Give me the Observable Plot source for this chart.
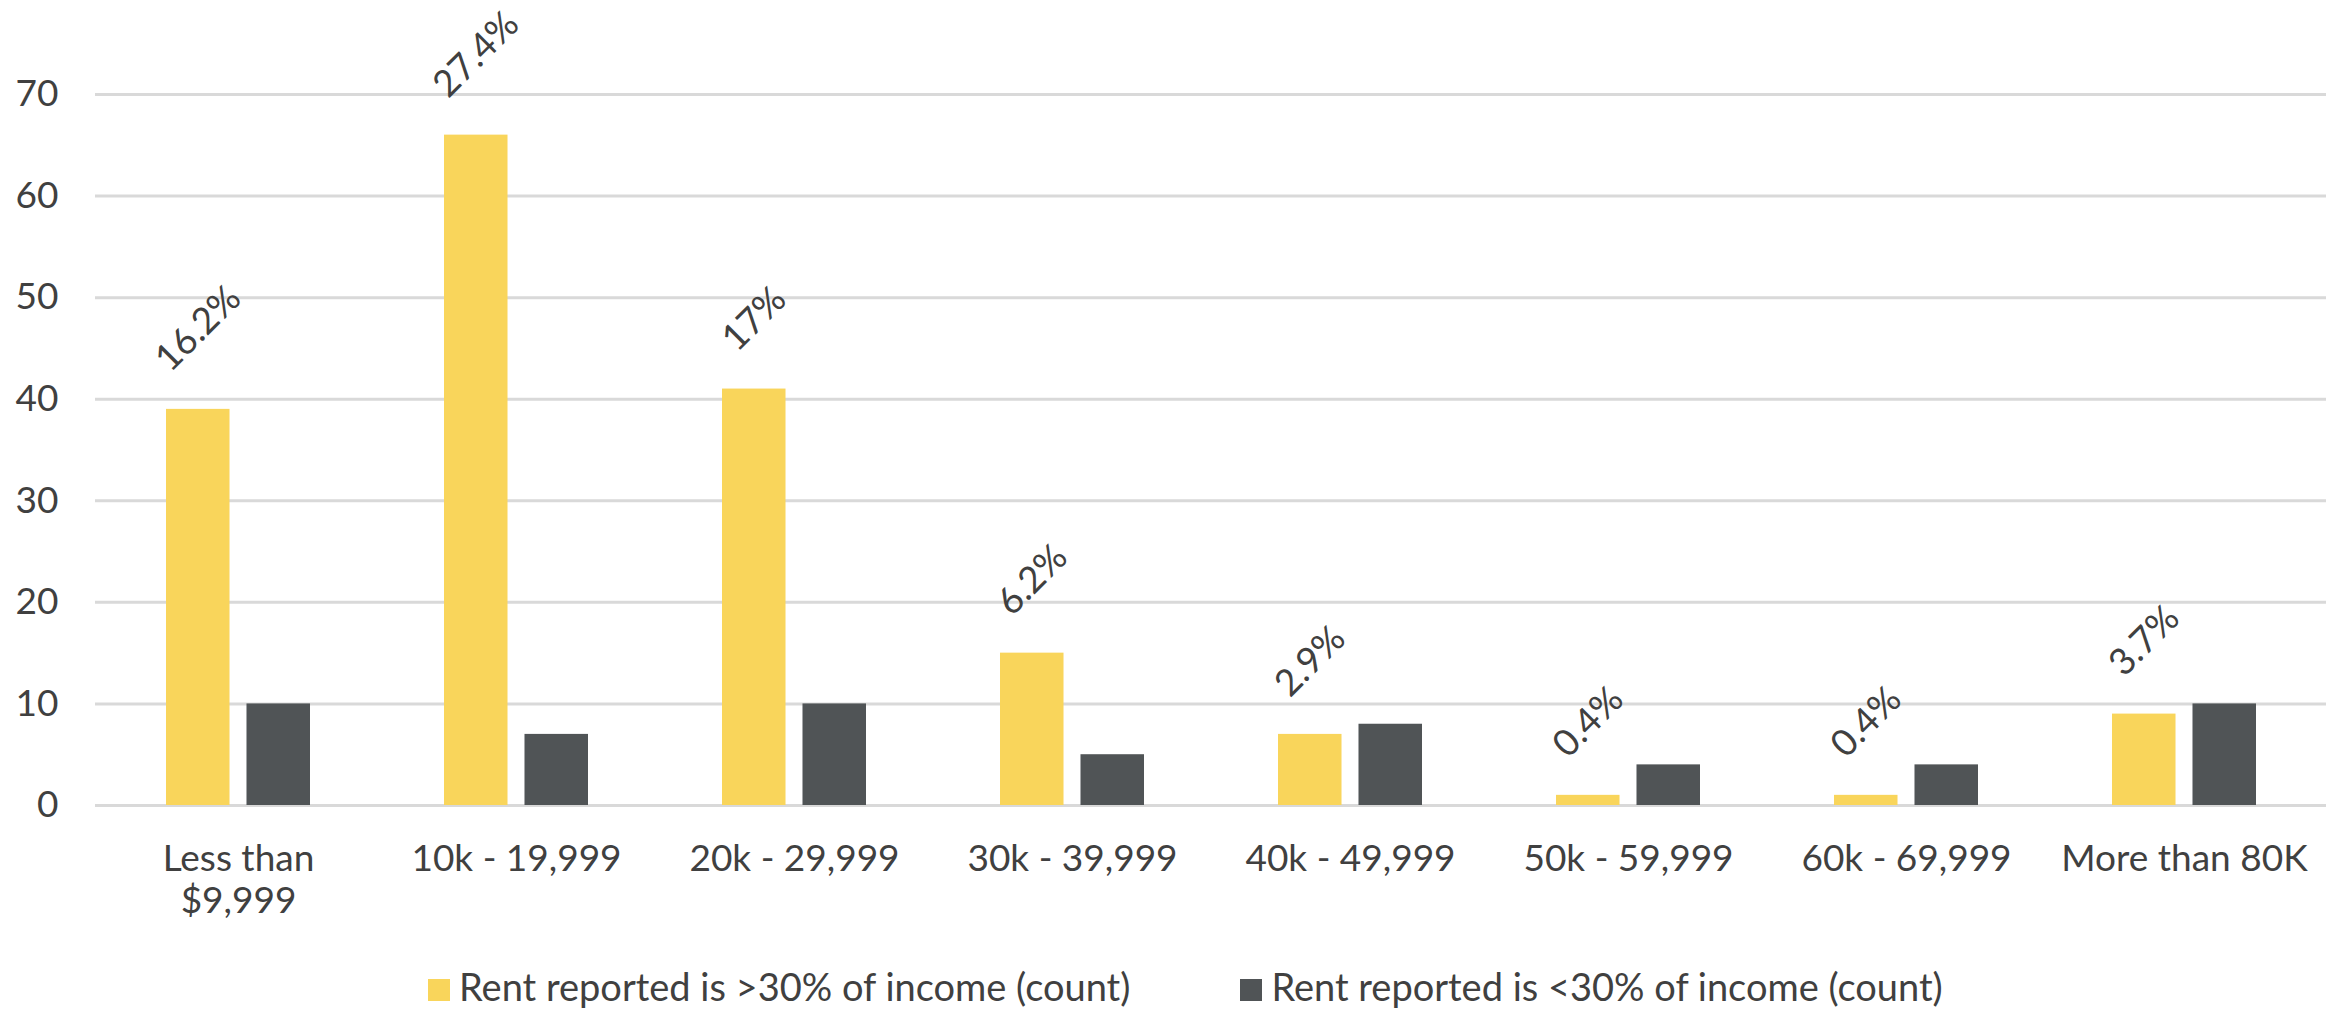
<!DOCTYPE html>
<html>
<head>
<meta charset="utf-8">
<script src="https://cdn.jsdelivr.net/npm/d3@7"></script>
<script src="https://cdn.jsdelivr.net/npm/@observablehq/plot@0.6"></script>
<style>
  html, body { margin: 0; padding: 0; background: #ffffff; }
  body { width: 2346px; height: 1011px; overflow: hidden; font-family: Lato, "Noto Sans", sans-serif; }
  #legend { height: 61px; box-sizing: border-box; padding-top: 17px; padding-left: 428px; font-size: 38px; line-height: 1; color: #404040; white-space: nowrap; }
  #legend .item { display: inline-block; margin-right: 110px; }
  #legend .sw { display: inline-block; width: 22px; height: 22px; margin-right: 9px; }
</style>
</head>
<body>
<div id="chart"></div>
<div id="legend"></div>
<script>
// ---- data ----
const categories = ["Less than\n$9,999", "10k - 19,999", "20k - 29,999", "30k - 39,999", "40k - 49,999", "50k - 59,999", "60k - 69,999", "More than 80K"];
const over30 = [39, 66, 41, 15, 7, 1, 1, 9];
const under30 = [10, 7, 10, 5, 8, 4, 4, 10];
const pctLabels = ["16.2%", "27.4%", "17%", "6.2%", "2.9%", "0.4%", "0.4%", "3.7%"];
const yTicks = [0, 10, 20, 30, 40, 50, 60, 70];
const seriesNames = ["Rent reported is >30% of income (count)", "Rent reported is <30% of income (count)"];
const seriesColors = ["#F9D55B", "#505456"];

// ---- layout ----
const width = 2346, height = 950;
const marginLeft = 95, marginRight = 20, marginTop = 94, marginBottom = 145;
const paddingInner = 0.4837;
const step = (width - marginLeft - marginRight) / categories.length;
const bandwidth = step * (1 - paddingInner);
const gap = 17;
const barW = (bandwidth - gap) / 2;
const inset = bandwidth - barW;
const fs = 37;
const labelGap = 36;
const textColor = "#404040";

const overData = categories.map((c, i) => ({category: c, value: over30[i], pct: pctLabels[i]}));
const underData = categories.map((c, i) => ({category: c, value: under30[i]}));

const chart = Plot.plot({
  width, height, marginLeft, marginRight, marginTop, marginBottom,
  style: {fontFamily: "Lato, 'Noto Sans', sans-serif", fontSize: fs + "px", color: textColor, background: "#ffffff", overflow: "visible"},
  x: {domain: categories, paddingInner, paddingOuter: paddingInner / 2, label: null},
  y: {domain: [0, 70], label: null},
  marks: [
    Plot.ruleY(yTicks, {stroke: "#D9D9D9", strokeWidth: 3}),
    Plot.barY(overData, {x: "category", y: "value", fill: seriesColors[0], insetRight: inset}),
    Plot.barY(underData, {x: "category", y: "value", fill: seriesColors[1], insetLeft: inset}),
    Plot.text(overData, {x: "category", y: "value", text: "pct", rotate: -45, textAnchor: "middle",
      dx: -(bandwidth - barW) / 2, dy: -labelGap - Math.SQRT1_2 * 0.32 * fs, fontSize: fs, fill: textColor}),
    Plot.axisY({ticks: yTicks, tickSize: 0, tickPadding: 37, fontSize: fs, label: null}),
    Plot.axisX({tickSize: 0, tickPadding: 35, fontSize: fs, lineHeight: 1.15, label: null})
  ]
});
document.getElementById("chart").appendChild(chart);

// place each rotated data label so its lowest point sits a fixed gap above its bar (as in the source)
chart.querySelectorAll('g[aria-label="text"] text').forEach(t => {
  const L = t.getComputedTextLength();
  const s = Math.SQRT1_2 * L / 2;
  t.setAttribute("transform", `translate(0,${-s}) ` + (t.getAttribute("transform") || ""));
});

// ---- legend ----
const legend = document.getElementById("legend");
seriesNames.forEach((name, i) => {
  const item = document.createElement("span");
  item.className = "item";
  const sw = document.createElement("span");
  sw.className = "sw";
  sw.style.background = seriesColors[i];
  item.appendChild(sw);
  item.appendChild(document.createTextNode(name));
  legend.appendChild(item);
});
</script>
</body>
</html>
